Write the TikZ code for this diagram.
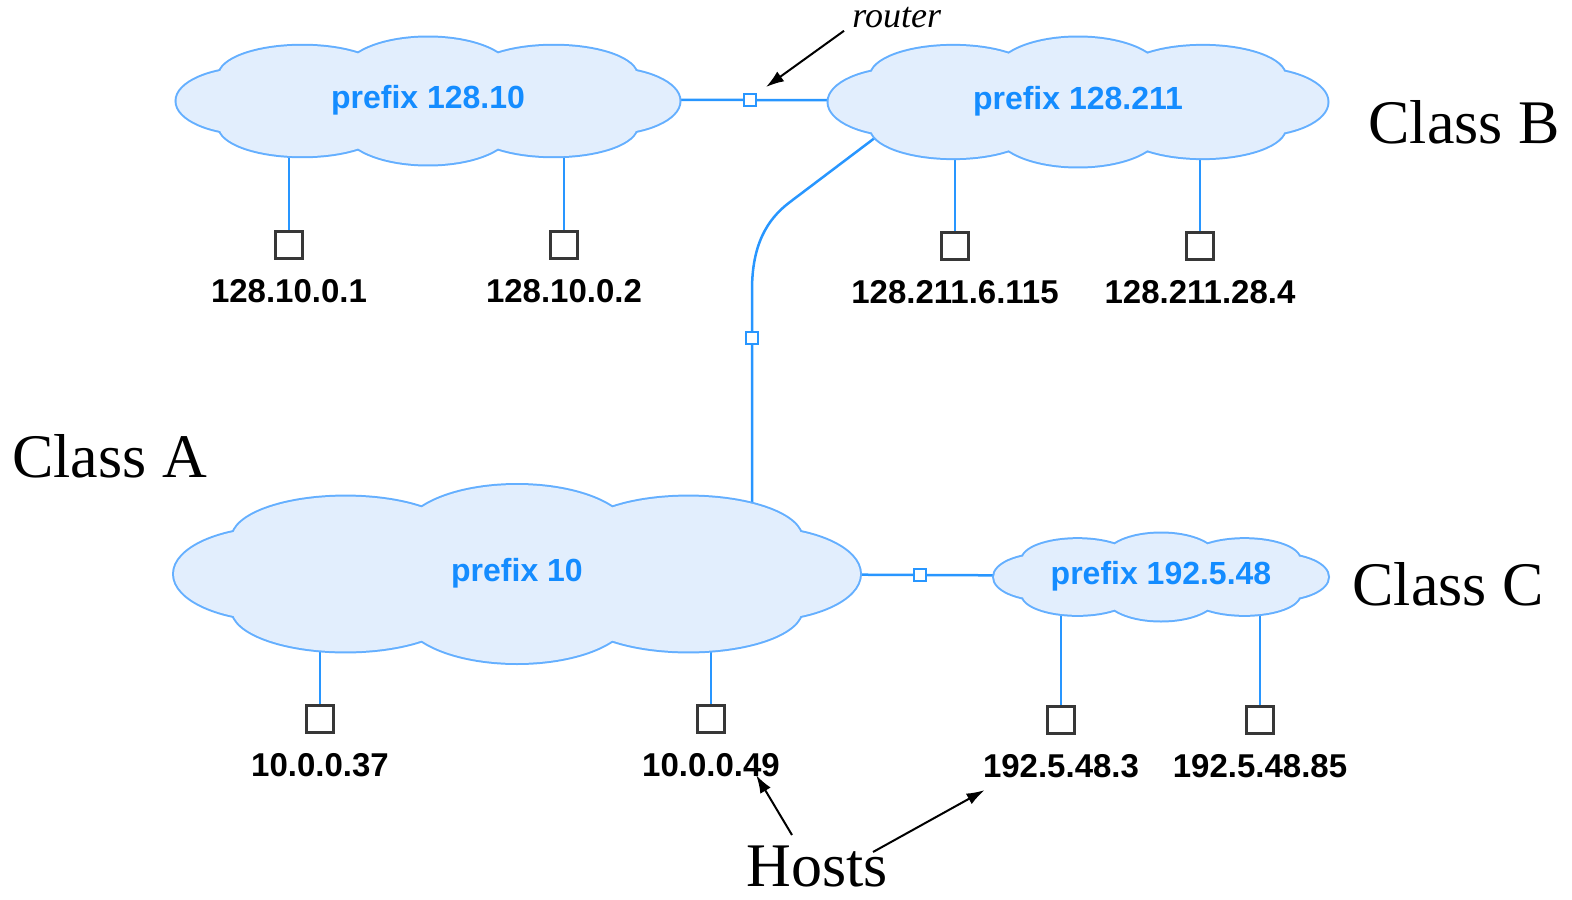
\documentclass[tikz,border=0pt]{standalone}
\usepackage{fontspec}
\setmainfont{Liberation Serif}
\setsansfont{Liberation Sans}
\usetikzlibrary{arrows.meta,backgrounds}

\definecolor{cloudfill}{RGB}{226,238,253}
\definecolor{cloudline}{RGB}{100,175,255}
\definecolor{wireblue}{RGB}{40,150,255}
\definecolor{cloudtext}{RGB}{20,140,255}
\definecolor{hostgray}{RGB}{55,55,55}

\tikzset{
  nettext/.style={text=cloudtext, inner sep=0pt, font=\sffamily\bfseries\fontsize{16}{19}\selectfont},
  wire/.style={draw=wireblue, line width=1.25pt},
  router/.style={draw=wireblue, fill=white, line width=1pt, minimum size=6pt, inner sep=0pt},
  host/.style={draw=hostgray, fill=white, line width=1.4pt, minimum size=13.5pt, inner sep=0pt},
  iplabel/.style={font=\sffamily\bfseries\fontsize{16.5}{19}\selectfont, inner sep=0pt},
  classlabel/.style={font=\fontsize{31}{37}\selectfont, inner sep=0pt, anchor=base west},
  pointer/.style={-{Latex[length=9pt,width=6pt]}, line width=1pt}
}

% cloud: name, centre x, centre y, half width, half height, text
\newcommand{\netcloud}[6]{%
  \begin{scope}[shift={(#2,#3)}, xscale=#4, yscale=#5]
    \foreach \ex/\ey/\rx/\ry in {-0.7/0/0.3/0.52, 0.7/0/0.3/0.52,
        -0.5/-0.4/0.33/0.47, 0/-0.45/0.33/0.55, 0.5/-0.4/0.33/0.47,
        -0.5/0.4/0.33/0.47, 0/0.45/0.33/0.55, 0.5/0.4/0.33/0.47}
      \draw[cloudline, line width=2pt] (\ex,\ey) ellipse [x radius=\rx, y radius=\ry];
    \foreach \ex/\ey/\rx/\ry in {-0.7/0/0.3/0.52, 0.7/0/0.3/0.52,
        -0.5/-0.4/0.33/0.47, 0/-0.45/0.33/0.55, 0.5/-0.4/0.33/0.47,
        -0.5/0.4/0.33/0.47, 0/0.45/0.33/0.55, 0.5/0.4/0.33/0.47, 0/0/0.7/0.5}
      \fill[cloudfill] (\ex,\ey) ellipse [x radius=\rx, y radius=\ry];
  \end{scope}
  \node[nettext] (#1) at (#2,#3-1) {#6};
}

\begin{document}
\begin{tikzpicture}[x=0.5pt,y=-0.5pt]
\useasboundingbox (0,0) rectangle (1572,899);

% the four networks
\netcloud{pB1}{428}{101}{251.5}{63.5}{prefix 128.10}
\netcloud{pB2}{1078}{102}{249.5}{64.5}{prefix 128.211}
\netcloud{pA}{517}{574}{343}{89}{prefix 10}
\netcloud{pC}{1161}{577}{167}{43.5}{prefix 192.5.48}

% routers
\node[router] (r1) at (750,100) {};
\node[router] (r2) at (752,338) {};
\node[router] (r3) at (920,575) {};
\coordinate (exitB2) at (880,134);

\begin{scope}[on background layer]
\draw[wire] (pB1) -- (r1) -- (pB2);
\draw[wire] (pA) -- (r3) -- (pC);
\draw[wire] (exitB2) -- (790,202) .. controls (766,220) and (752,246) .. (752,290) -- (r2) -- (r2 |- pA.center);
\end{scope}

% hosts
\foreach \h/\x/\y/\ip/\net in {h1/289/245/128.10.0.1/pB1, h2/564/245/128.10.0.2/pB1,
    h3/955/246/128.211.6.115/pB2, h4/1200/246/128.211.28.4/pB2,
    h5/320/719/10.0.0.37/pA, h6/711/719/10.0.0.49/pA,
    h7/1061/720/192.5.48.3/pC, h8/1260/720/192.5.48.85/pC} {
  \node[host] (\h) at (\x,\y) {};
  \node[iplabel] (\h-ip) at (\x,\y+46) {\ip};
  \begin{scope}[on background layer]
  \draw[wire] (\h) -- (\h |- \net.center);
  \end{scope}
}

% class names
\node[classlabel] (classB) at (1368,143) {Class B};
\node[classlabel] (classA) at (12,477) {Class A};
\node[classlabel] (classC) at (1352,605) {Class C};
\node[classlabel] (hosts) at (746,886) {Hosts};
\node[font=\itshape\fontsize{18}{22}\selectfont, inner sep=0pt, anchor=base west] (rnote) at (852,28) {router};

% pointers
\coordinate (hostsA) at (792,835);
\coordinate (hostsB) at (873,852);
\draw[pointer] ([shift={(-4pt,-1pt)}]rnote.south west) -- ([shift={(4.5pt,3pt)}]r1.north east);
\draw[pointer] (hostsA) -- ([shift={(-12pt,1pt)}]h6-ip.south east);
\draw[pointer] (hostsB) -- ([shift={(1pt,-6pt)}]h7-ip.south west);
\end{tikzpicture}
\end{document}
